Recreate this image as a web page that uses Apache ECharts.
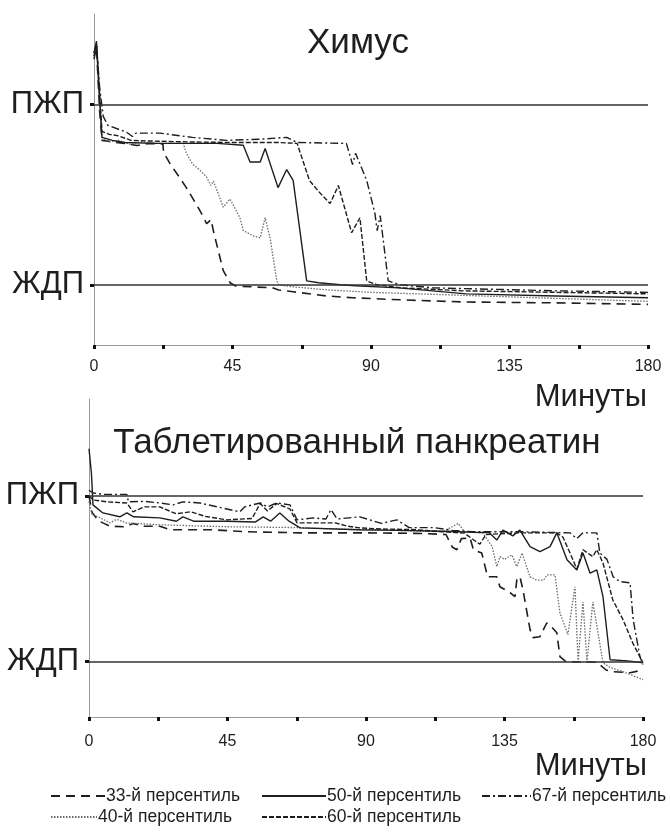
<!DOCTYPE html>
<html>
<head>
<meta charset="utf-8">
<script src="https://cdn.jsdelivr.net/npm/echarts@6.0.0/dist/echarts.min.js"></script>
<style>
  html, body { margin: 0; padding: 0; background: #fff; }
  #main { width: 670px; height: 832px; }
</style>
</head>
<body>
<div id="main"></div>
<script>
// названия кривых (перцентили)
const names = ['33-й персентиль', '40-й персентиль', '50-й персентиль', '60-й персентиль', '67-й персентиль'];

// подписи оси Y: уровни ЖДП / ПЖП
const levelValues = [20, 80];
const levelNames = ['ЖДП', 'ПЖП'];

// ось X, минуты
const xTickLabels = [0, 45, 90, 135, 180];

// Химус: [минута, уровень]
const himus33 = [[0,95],[0.8,99],[1.8,78],[2.6,68],[6,67.5],[10,67],[14,66.3],[18,67],[22.4,66.8],[22.6,64],[24.7,60.3],[30,52.3],[34.4,44.7],[36.6,40.3],[38,41.7],[39,37],[42,24.7],[44.2,20.7],[46,19.6],[58,19],[60,18.3],[64.7,17.7],[75.6,16.3],[84,15.7],[100,15],[120,14.3],[150,14],[180,13.5]];
const himus40 = [[0,96],[0.8,100],[1.8,80],[2.6,69],[5,67.5],[8,68],[12,66.6],[15,67.5],[20,67],[29,67],[30,63.7],[32,60.2],[34.5,58],[36.6,55.8],[38,53],[38.8,54.5],[42,45.8],[44.2,48.5],[47.4,42.3],[48.5,38],[51.7,36.3],[54,35.6],[55.6,42.3],[57.2,35.6],[59.4,21.3],[60,20],[65,19.3],[76,18.3],[90,17.5],[120,16.5],[150,15.5],[180,14.5]];
const himus50 = [[0,97],[0.8,101],[1.8,82],[2.6,69],[6,68],[10,67.3],[20,67],[30,67],[40,67],[48.5,66.4],[50.7,60.8],[54,60.8],[55.6,65.3],[59.8,52.3],[62.6,58.3],[64.7,54.7],[66.9,38],[69.1,21.3],[73,20.7],[80,20],[85,19.7],[99,19],[121,17],[150,16.3],[180,15.7]];
const himus60 = [[0,96],[0.8,100],[1.8,84],[2.6,71],[5,70],[8,69.5],[12,68],[18,67.8],[30,67.5],[45,67.3],[60,67.3],[66,67],[70,54.7],[73,51],[76.7,47],[79.4,53],[83.7,37.3],[86.4,42.3],[88.6,21.3],[92,20],[100,19],[120,18],[150,17.5],[180,17]];
const himus67 = [[0,97],[0.8,100],[1.8,86],[3,76],[4.5,73],[10.6,70.7],[12.5,69.3],[13.6,70.4],[21.4,70.4],[32,69],[43,68],[54,68.4],[62.6,69],[66,67.3],[82,67],[84,60],[85,63.7],[88.6,54.7],[91.3,43.6],[92,38],[93,43],[95.6,21.3],[99.4,20],[110,19],[130,18.5],[150,18],[180,17.5]];

// Таблетированный панкреатин
const tab33 = [[0,80],[1,74],[3,71],[4.5,70.2],[6.8,69],[12,68.8],[14.3,70],[18,69],[23,69],[26.3,67.7],[40,67.7],[51,67],[68.6,66.6],[88,66.6],[100,66.5],[110,66.3],[116,66],[118,61.5],[119.5,60.5],[121,64.5],[123.8,64.8],[124.9,60.5],[127.6,59.3],[128.7,54.4],[129.5,50.7],[132.5,50.7],[133.5,47.1],[136.8,45],[138.4,43.5],[139,49.6],[140,50.8],[141,46],[143.3,31.6],[144.3,28.7],[146.5,29],[148.7,34],[150,33],[152,30.5],[153,21.8],[155,20],[165,19.8],[168,17],[170,16.4],[175.8,16],[180,17]];
const tab40 = [[0,78],[1,73],[3,72.4],[6.8,70.2],[9,71.5],[12,70.2],[23,69.5],[44.8,68.8],[68,68.5],[88,67.7],[100,67.5],[115,67],[120,70],[122,67],[128,66.5],[131,61.6],[132.5,54.4],[133.5,58],[135,57],[137.4,58.6],[139,54.4],[140.7,59.3],[143.3,50.7],[145.5,49.5],[147.7,49.5],[148.8,51.4],[151.4,51.4],[153,37.7],[155.6,29.8],[157.9,47.1],[158.9,20],[160.5,41.6],[161.8,20],[163.7,41.6],[167,19.6],[169.5,17.8],[173.5,16.4],[180,13.5]];
const tab50 = [[0,97],[0.8,88],[1.3,76.7],[4.5,73.8],[10,72.4],[12.3,73.8],[14.5,72.4],[23,72],[28.4,70.8],[30.5,72.4],[34,70.8],[44.8,70.8],[54,70.5],[56.6,72.4],[59,70.8],[62,73.8],[65,70.8],[68.6,68.4],[88,67.7],[100,67.5],[115,67.2],[125,66.8],[130,66.7],[132.5,64],[134.5,67.6],[137.7,65.5],[140,67.6],[143.3,61.6],[146.5,59.8],[149.8,61.6],[152,66.6],[155.3,56.9],[158.5,53.2],[160.5,59.3],[162.8,52],[165,53.2],[167,43.5],[169.3,20.7],[175,20.3],[180,19.6]];
const tab60 = [[0,80],[1.3,78.5],[6,77.8],[12.3,77.4],[14.3,74.2],[18,76],[23,76],[28.3,73.5],[33,74.2],[38,72.5],[44.8,71.3],[53,71.8],[55.6,77.2],[58,74.5],[61,77.2],[65.3,75.2],[67.6,70.2],[80,70.2],[84,69],[88,68.4],[95,68],[105,67.8],[115,67],[122,66.5],[125,64],[127,62.5],[129,66],[140,66.6],[152,66.6],[154,65],[156.3,59.3],[158.5,53.5],[160.5,60.5],[163.7,58],[165,60.5],[167,55.7],[170.2,42.3],[173.5,35.2],[176.7,26.7],[180,19.6]];
const tab67 = [[0,82],[1.3,81],[5,80.5],[12.3,80.5],[12.8,77.8],[18,78],[23,77.4],[27.3,76.7],[30.5,77.8],[36,77.4],[41.6,76],[49,74.2],[50.6,76],[55.6,77.4],[58,76],[61,77.4],[65.3,76.7],[67.6,71.3],[72.8,72],[77,71.6],[78.6,75],[80.6,71.6],[88,72.4],[95,70],[100,71.3],[104,68.5],[112,68.5],[118,67.5],[125,67],[140,67],[156.3,66.6],[158.5,64.5],[160.5,66.6],[162.8,66.6],[165,66.6],[166,59.3],[168.3,57],[170.3,50.7],[172.5,49],[175.8,48.5],[176.8,35.2],[179,21.8],[180,19]];

const panelData = [
    [himus33, himus40, himus50, himus60, himus67],
    [tab33, tab40, tab50, tab60, tab67]
];

const font = "'Liberation Sans', Arial, sans-serif";
const ink = '#1e1e1e';

// стиль линий для каждого перцентиля
const lineStyles = [
    { color: ink, width: 1.6, type: [9, 6] },
    { color: '#6a6a6a', width: 1.3, type: [1.5, 1.5] },
    { color: ink, width: 1.4, type: 'solid' },
    { color: ink, width: 1.4, type: [5, 2] },
    { color: ink, width: 1.4, type: [8, 3, 2, 3] }
];

let myChart = echarts.init(document.getElementById('main'));

function makeXAxis(i, margin) {
    return {
        type: 'value', gridIndex: i, min: 0, max: 180, interval: 22.5,
        axisLine: { lineStyle: { color: '#9a9a9a', width: 1 } },
        axisTick: { show: true, length: 4, lineStyle: { color: '#111', width: 3 } },
        axisLabel: {
            customValues: xTickLabels, margin: margin,
            fontSize: 16, color: ink, fontFamily: font
        },
        splitLine: { show: false }
    };
}

function makeYAxis(i, max) {
    return {
        type: 'value', gridIndex: i, min: 0, max: max,
        axisLine: { show: true, lineStyle: { color: '#9a9a9a', width: 1 } },
        axisTick: { show: true, customValues: levelValues, length: 4, lineStyle: { color: '#111', width: 3 } },
        axisLabel: {
            customValues: levelValues, margin: 10,
            fontSize: 31, color: ink, fontFamily: font,
            formatter: function (v) { return levelNames[levelValues.indexOf(v)] || ''; }
        },
        splitLine: { show: false }
    };
}

let series = [];
panelData.forEach(function (arrs, gi) {
    arrs.forEach(function (data, k) {
        let s = {
            name: names[k], type: 'line',
            xAxisIndex: gi, yAxisIndex: gi,
            data: data, symbol: 'none',
            color: lineStyles[k].color,
            lineStyle: lineStyles[k],
            z: 3
        };
        // горизонтальные линии ПЖП и ЖДП
        if (k === 0) {
            s.markLine = {
                silent: true, symbol: ['none', 'none'],
                label: { show: false },
                lineStyle: { color: '#333', type: 'solid', width: 1.6 },
                data: levelValues.map(function (v) { return { yAxis: v }; })
            };
        }
        series.push(s);
    });
});

// легенда — каждую подпись ставим отдельно, как в исходнике
const legendPos = [
    { left: 50, top: 787, w: 54 },
    { left: 50, top: 808, w: 46 },
    { left: 261, top: 787, w: 64 },
    { left: 261, top: 808, w: 64 },
    { left: 481, top: 787, w: 49 }
];
let legends = names.map(function (n, k) {
    return {
        data: [n], left: legendPos[k].left, top: legendPos[k].top,
        itemWidth: legendPos[k].w, itemHeight: 12, itemGap: 0,
        selectedMode: false, padding: 0,
        itemStyle: { opacity: 0 },
        textStyle: { fontSize: 17.5, color: ink, fontFamily: font, padding: [0, 0, 0, -4] }
    };
});

function txt(text, x, y, size, align) {
    return {
        type: 'text', x: x, y: y,
        style: {
            text: text, fill: ink, font: size + 'px ' + font,
            textAlign: align, textVerticalAlign: 'middle'
        }
    };
}

myChart.setOption({
    animation: false,
    backgroundColor: '#fff',
    grid: [
        { left: 94, width: 554, top: 14, height: 331 },
        { left: 89, width: 554, top: 399, height: 318 }
    ],
    xAxis: [makeXAxis(0, 14), makeXAxis(1, 17)],
    yAxis: [makeYAxis(0, 110), makeYAxis(1, 115)],
    legend: legends,
    graphic: [
        txt('Химус', 358, 43, 35, 'center'),
        txt('Таблетированный панкреатин', 357, 443, 35, 'center'),
        txt('Минуты', 647, 397, 31, 'right'),
        txt('Минуты', 647, 766, 31, 'right')
    ],
    series: series
});
</script>
</body>
</html>
